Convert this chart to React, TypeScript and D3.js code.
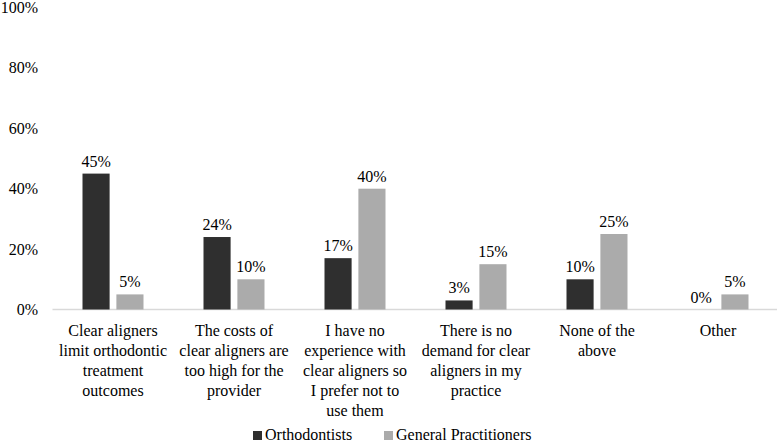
import React, { useRef, useEffect } from 'react'
import * as d3 from 'd3'

const categories = [
  'Clear aligners\nlimit orthodontic\ntreatment\noutcomes',
  'The costs of\nclear aligners are\ntoo high for the\nprovider',
  'I have no\nexperience with\nclear aligners so\nI prefer not to\nuse them',
  'There is no\ndemand for clear\naligners in my\npractice',
  'None of the\nabove',
  'Other',
]
const orthodontists = [45, 24, 17, 3, 10, 0]
const generalPractitioners = [5, 10, 40, 15, 25, 5]
const seriesNames = ['Orthodontists', 'General Practitioners']
const seriesColors = ['#2f2f2f', '#ababab']
const yTicks = [0, 20, 40, 60, 80, 100]

const FONT = 'Liberation Serif, Tinos, DejaVu Serif, serif'

export default function App() {
  const ref = useRef<SVGSVGElement | null>(null)

  useEffect(() => {
    const el = ref.current
    if (!el) return
    const width = 777
    const svg = d3.select(el)
    svg.selectAll('*').remove()

    const x = d3.scaleBand<number>().domain(d3.range(categories.length)).range([52.5, 778.5])
    const y = d3.scaleLinear().domain([0, 100]).range([309.5, 7.5])
    const inner = d3.scaleBand<number>().domain([0, 1]).range([30, 91]).paddingInner(0.2)

    const root = svg.append('g').attr('font-family', FONT).attr('font-size', 16).attr('fill', '#000')

    // y tick labels
    root.append('g').selectAll('text').data(yTicks).join('text')
      .attr('x', 38).attr('y', d => y(d) + 5.5)
      .attr('text-anchor', 'end')
      .text(d => `${d}%`)

    // baseline
    root.append('line').attr('x1', 52.5).attr('x2', width).attr('y1', y(0)).attr('y2', y(0))
      .attr('stroke', '#d9d9d9').attr('stroke-width', 1.5)

    const series = [orthodontists, generalPractitioners]
    series.forEach((vals, s) => {
      const g = root.append('g')
      g.selectAll('rect').data(vals).join('rect')
        .attr('x', (_, i) => x(i)! + inner(s)!)
        .attr('y', d => y(d))
        .attr('width', inner.bandwidth())
        .attr('height', d => y(0) - y(d))
        .attr('fill', seriesColors[s])
      g.selectAll('text').data(vals).join('text')
        .attr('x', (_, i) => x(i)! + inner(s)! + inner.bandwidth() / 2)
        .attr('y', d => y(d) - 7)
        .attr('text-anchor', 'middle')
        .text(d => `${d}%`)
    })

    // category labels, one tspan per line
    const cat = root.append('g')
    categories.forEach((c, i) => {
      const cx = x(i)! + x.bandwidth() / 2
      const t = cat.append('text').attr('text-anchor', 'middle')
      c.split('\n').forEach((line, j) => {
        t.append('tspan').attr('x', cx).attr('y', 335.5 + j * 20).text(line)
      })
    })

    // legend
    const legendX = [253, 384]
    const leg = root.append('g')
    seriesNames.forEach((n, s) => {
      leg.append('rect').attr('x', legendX[s]).attr('y', 431).attr('width', 9).attr('height', 9)
        .attr('fill', seriesColors[s])
      leg.append('text').attr('x', legendX[s] + 12).attr('y', 440).text(n)
    })
  }, [])

  return (
    <svg ref={ref} width={777} height={442}
      style={{ position: 'absolute', left: 0, top: 0, background: '#fff', display: 'block' }} />
  )
}
